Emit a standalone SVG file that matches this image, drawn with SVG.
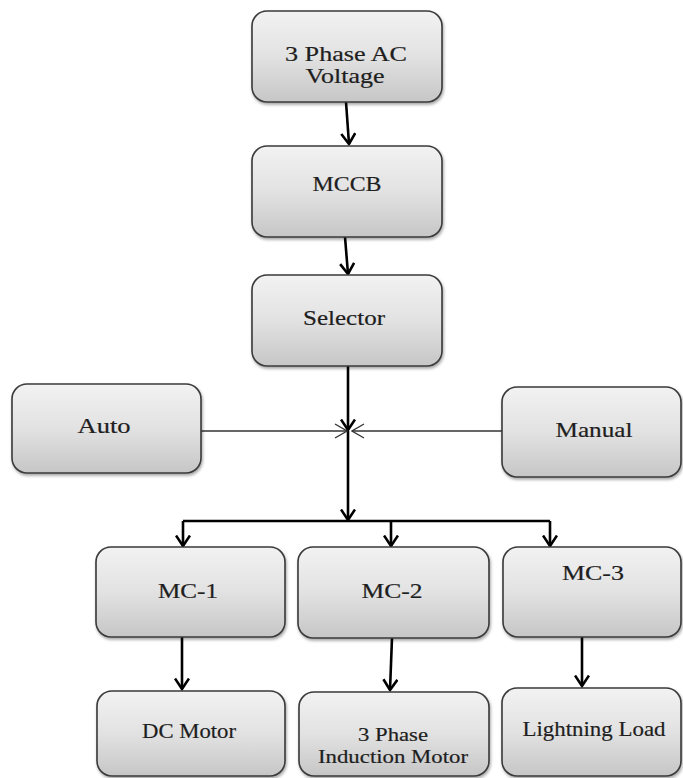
<svg xmlns="http://www.w3.org/2000/svg" width="683" height="778" viewBox="0 0 683 778">
<style>
.box{fill:url(#g);stroke:#3a3a3a;stroke-width:1.6;filter:url(#sh)}
.t{font-family:"Liberation Serif","Times New Roman",serif;font-size:21px;fill:#1e1e1e;stroke:#1e1e1e;stroke-width:0.2;text-anchor:middle}
.s{font-size:19px}
.thick{stroke:#000;stroke-width:2.6;fill:none;marker-end:url(#ah)}
.bus{stroke:#000;stroke-width:2.6;fill:none}
.thin{stroke:#333;stroke-width:1.3;fill:none;marker-end:url(#ao)}
</style>
<defs>
<linearGradient id="g" x1="0" y1="0" x2="0" y2="1">
<stop offset="0" stop-color="#f2f2f2"/>
<stop offset="0.5" stop-color="#e2e2e2"/>
<stop offset="1" stop-color="#c6c6c6"/>
</linearGradient>
<filter id="sh" x="-10%" y="-10%" width="125%" height="130%">
<feDropShadow dx="1" dy="2" stdDeviation="1.5" flood-color="#000" flood-opacity="0.35"/>
</filter>
<marker id="ah" markerUnits="userSpaceOnUse" viewBox="0 0 13 16" refX="11.5" refY="8" markerWidth="13" markerHeight="16" orient="auto">
<path d="M1,1 L11.5,8 L1,15" fill="none" stroke="#000" stroke-width="2.6"/>
</marker>
<marker id="ao" markerUnits="userSpaceOnUse" viewBox="0 0 14 16" refX="13" refY="8" markerWidth="14" markerHeight="16" orient="auto">
<path d="M1,1 L13,8 L1,15" fill="none" stroke="#333" stroke-width="1.3"/>
</marker>
</defs>

<g id="connectors">
<path class="thick" d="M346,102 L349,144"/>
<path class="thick" d="M345,237 L348,274"/>
<path class="thick" d="M348,366 L348,430"/>
<path class="thick" d="M348,431 L348,520"/>
<path class="bus" d="M183,521 L550,521"/>
<path class="thick" d="M183,521 L183,546"/>
<path class="thick" d="M391,521 L391,546"/>
<path class="thick" d="M550,521 L550,546"/>
<path class="thin" d="M201,431 L347,431"/>
<path class="thin" d="M502,431 L352,431"/>
<path class="thick" d="M182,637 L182,689"/>
<path class="thick" d="M392,638 L390,690"/>
<path class="thick" d="M582,637 L582,686"/>
</g>

<g id="n-ac"><rect class="box" x="252" y="11" width="190" height="91" rx="15"/>
<text class="t" x="346" y="61" textLength="122" lengthAdjust="spacingAndGlyphs">3 Phase AC</text>
<text class="t" x="345" y="83" textLength="79" lengthAdjust="spacingAndGlyphs">Voltage</text></g>

<g id="n-mccb"><rect class="box" x="252" y="146" width="190" height="91" rx="15"/>
<text class="t" x="347" y="191" textLength="69" lengthAdjust="spacingAndGlyphs">MCCB</text></g>

<g id="n-selector"><rect class="box" x="252" y="275" width="190" height="91" rx="15"/>
<text class="t" x="344" y="325" textLength="82" lengthAdjust="spacingAndGlyphs">Selector</text></g>

<g id="n-auto"><rect class="box" x="12" y="384" width="189" height="89" rx="15"/>
<text class="t" x="104" y="433" textLength="53" lengthAdjust="spacingAndGlyphs">Auto</text></g>

<g id="n-manual"><rect class="box" x="502" y="387" width="179" height="90" rx="15"/>
<text class="t" x="594" y="437" textLength="77" lengthAdjust="spacingAndGlyphs">Manual</text></g>

<g id="n-mc1"><rect class="box" x="96" y="547" width="189" height="90" rx="15"/>
<text class="t" x="188" y="598" textLength="60" lengthAdjust="spacingAndGlyphs">MC-1</text></g>

<g id="n-mc2"><rect class="box" x="298" y="547" width="191" height="91" rx="15"/>
<text class="t" x="392" y="598" textLength="61" lengthAdjust="spacingAndGlyphs">MC-2</text></g>

<g id="n-mc3"><rect class="box" x="503" y="547" width="178" height="90" rx="15"/>
<text class="t" x="593" y="580" textLength="62" lengthAdjust="spacingAndGlyphs">MC-3</text></g>

<g id="n-dc"><rect class="box" x="97" y="691" width="188" height="85" rx="15"/>
<text class="t" x="189" y="738" textLength="94" lengthAdjust="spacingAndGlyphs">DC Motor</text></g>

<g id="n-im"><rect class="box" x="299" y="692" width="190" height="84" rx="15"/>
<text class="t s" x="393" y="741" textLength="70" lengthAdjust="spacingAndGlyphs">3 Phase</text>
<text class="t s" x="393" y="763" textLength="150" lengthAdjust="spacingAndGlyphs">Induction Motor</text></g>

<g id="n-light"><rect class="box" x="502" y="688" width="179" height="88" rx="15"/>
<text class="t" x="594" y="736" textLength="143" lengthAdjust="spacingAndGlyphs">Lightning Load</text></g>
</svg>
